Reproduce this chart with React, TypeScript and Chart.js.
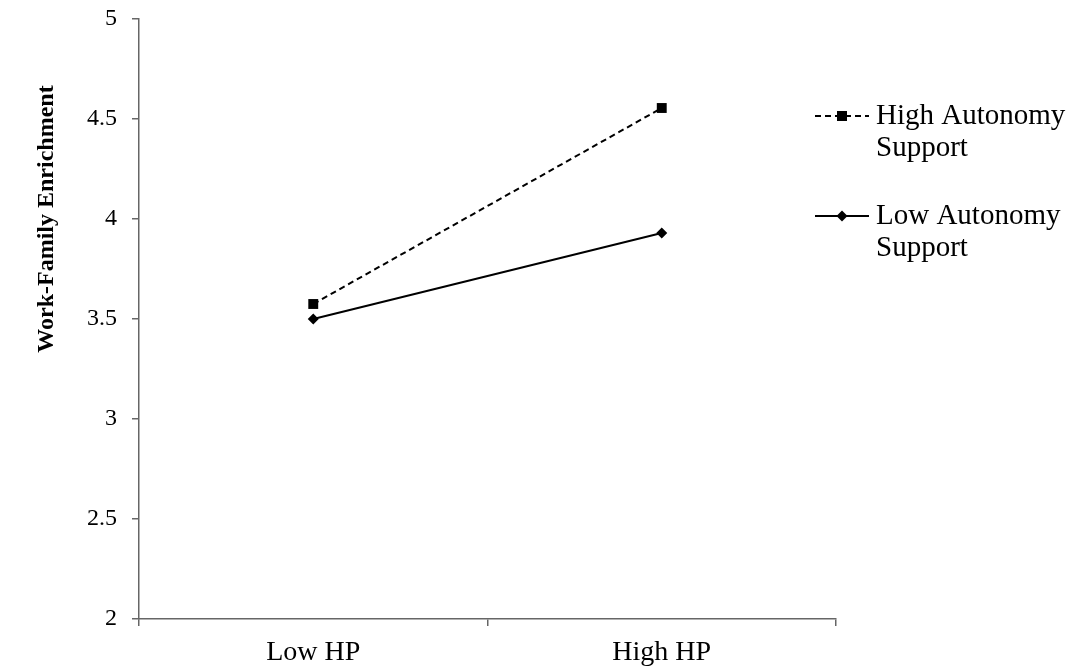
import React, { useEffect, useRef } from "react";
import { Chart, registerables } from "chart.js";

Chart.register(...registerables);

const categories = ["Low HP", "High HP"];
const highAutonomy = [3.575, 4.555];
const lowAutonomy = [3.5, 3.93];
const seriesNames = [["High Autonomy", "Support"], ["Low Autonomy", "Support"]];
const yTitle = "Work-Family Enrichment";
const yMin = 2;
const yMax = 5;
const yStep = 0.5;

const SERIF = "'Liberation Serif', 'Times New Roman', serif";

const overlayPlugin = {
  id: "overlay",
  afterDraw(chart: any) {
    const ctx = chart.ctx as CanvasRenderingContext2D;
    ctx.save();
    // y title
    ctx.fillStyle = "#000";
    ctx.font = `bold 24px ${SERIF}`;
    ctx.textAlign = "center";
    ctx.textBaseline = "middle";
    ctx.translate(47, 219);
    ctx.rotate(-Math.PI / 2);
    ctx.fillText(yTitle, 0, 0);
    ctx.restore();

    // legend
    const entries = [
      { y: 116, dash: [6, 4], marker: "rect" },
      { y: 216, dash: [], marker: "diamond" },
    ];
    entries.forEach((e, i) => {
      ctx.save();
      ctx.strokeStyle = "#000";
      ctx.lineWidth = 2;
      ctx.setLineDash(e.dash);
      ctx.beginPath();
      ctx.moveTo(815, e.y);
      ctx.lineTo(869, e.y);
      ctx.stroke();
      ctx.setLineDash([]);
      ctx.fillStyle = "#000";
      const cx = 842;
      if (e.marker === "rect") {
        ctx.fillRect(cx - 5, e.y - 5, 10, 10);
      } else {
        ctx.beginPath();
        ctx.moveTo(cx, e.y - 5.5);
        ctx.lineTo(cx + 5.5, e.y);
        ctx.lineTo(cx, e.y + 5.5);
        ctx.lineTo(cx - 5.5, e.y);
        ctx.closePath();
        ctx.fill();
      }
      ctx.font = `29px ${SERIF}`;
      ctx.textAlign = "left";
      ctx.textBaseline = "middle";
      seriesNames[i].forEach((line, j) => {
        ctx.fillText(line, 876, e.y + j * 32);
      });
      ctx.restore();
    });
  },
};

export default function App() {
  const ref = useRef<HTMLCanvasElement | null>(null);
  useEffect(() => {
    if (!ref.current) return;
    const axisColor = "#666";
    const chart = new Chart(ref.current, {
      type: "line",
      data: {
        labels: categories,
        datasets: [
          {
            label: seriesNames[0].join(" "),
            data: highAutonomy,
            borderColor: "#000",
            backgroundColor: "#000",
            borderWidth: 2,
            borderDash: [6, 4],
            pointStyle: "rect",
            pointRadius: 7,
            pointBorderWidth: 0,
            pointBackgroundColor: "#000",
          },
          {
            label: seriesNames[1].join(" "),
            data: lowAutonomy,
            borderColor: "#000",
            backgroundColor: "#000",
            borderWidth: 2,
            pointStyle: "rectRot",
            pointRadius: 5.5,
            pointBorderWidth: 0,
            pointBackgroundColor: "#000",
          },
        ],
      },
      options: {
        animation: false,
        responsive: true,
        maintainAspectRatio: false,
        layout: { padding: { left: 0, right: 254, top: 19, bottom: 0 } },
        plugins: {
          legend: { display: false },
          tooltip: { enabled: false },
        },
        scales: {
          x: {
            type: "category",
            offset: true,
            grid: {
              offset: true,
              drawOnChartArea: false,
              drawTicks: true,
              tickLength: 7,
              color: axisColor,
              lineWidth: 1.5,
            },
            border: { color: axisColor, width: 1.5 },
            ticks: {
              color: "#000",
              font: { family: SERIF, size: 28 },
              padding: 10,
            },
            afterFit: (s: any) => {
              s.height = 49;
              s.paddingLeft = 0;
              s.paddingRight = 0;
            },
          },
          y: {
            min: yMin,
            max: yMax,
            grid: {
              drawOnChartArea: false,
              drawTicks: true,
              tickLength: 7,
              color: axisColor,
              lineWidth: 1.5,
            },
            border: { color: axisColor, width: 1.5 },
            ticks: {
              stepSize: yStep,
              color: "#000",
              font: { family: SERIF, size: 24 },
              padding: 15,
              callback: (v: any) => String(v),
            },
            afterFit: (s: any) => {
              s.width = 139;
              s.paddingTop = 0;
              s.paddingBottom = 0;
            },
          },
        },
      },
      plugins: [overlayPlugin],
    });
    return () => chart.destroy();
  }, []);
  return (
    <div style={{ position: "fixed", left: 0, top: 0, width: 1090, height: 668, background: "#fff" }}>
      <canvas ref={ref} />
    </div>
  );
}
